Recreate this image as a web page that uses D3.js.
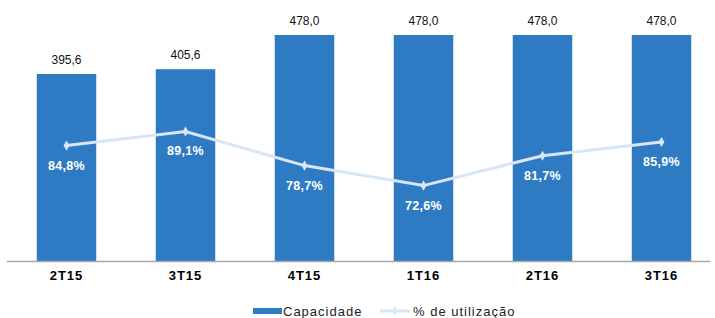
<!DOCTYPE html>
<html>
<head>
<meta charset="utf-8">
<script src="https://cdn.jsdelivr.net/npm/d3@7"></script>
<style>
  body { margin: 0; background: #fff; }
  svg { display: block; font-family: "Liberation Sans", Arial, sans-serif; }
</style>
</head>
<body>
<script>
// chart data
let categories = ["2T15", "3T15", "4T15", "1T16", "2T16", "3T16"];
let capacidade = [395.6, 405.6, 478.0, 478.0, 478.0, 478.0];
let utilizacao = [84.8, 89.1, 78.7, 72.6, 81.7, 85.9];
let seriesNames = ["Capacidade", "% de utilização"];

let width = 715,
  height = 318;

let barColor = "#2e7bc4",
  lineColor = "#d9e6f6";

let fmt = (v, d) => v.toFixed(d).replace(".", ",");

let svg = d3.select("body")
  .append("svg")
  .attr("width", width)
  .attr("height", height);

// scales
let x = d3.scaleBand()
  .domain(categories)
  .range([7, 721])
  .paddingInner(0.5)
  .paddingOuter(0.25);

let y = d3.scaleLinear().domain([0, 552]).range([261, 0]);
let y2 = d3.scaleLinear().domain([49.6, 129.2]).range([261, 0]);

// bars
svg.append("g")
  .selectAll("rect")
  .data(capacidade)
  .join("rect")
  .attr("x", (d, i) => x(categories[i]))
  .attr("y", d => y(d))
  .attr("width", x.bandwidth())
  .attr("height", d => y(0) - y(d))
  .attr("fill", barColor);

// bar value labels
svg.append("g")
  .selectAll("text")
  .data(capacidade)
  .join("text")
  .attr("x", (d, i) => x(categories[i]) + x.bandwidth() / 2)
  .attr("y", d => y(d) - 10)
  .attr("text-anchor", "middle")
  .attr("font-size", 12)
  .attr("fill", "#111")
  .text(d => fmt(d, 1));

// x axis
let axis = svg.append("g")
  .attr("transform", "translate(0,261)")
  .call(d3.axisBottom(x).tickSize(0).tickPadding(10));
axis.select(".domain")
  .attr("d", "M7,0.5H710")
  .attr("stroke", "#a6a6a6")
  .attr("stroke-width", 1.5);
axis.selectAll("text")
  .attr("font-family", "'Liberation Sans', Arial, sans-serif")
  .attr("font-size", 13)
  .attr("font-weight", "bold")
  .attr("letter-spacing", 1)
  .attr("fill", "#000");

// utilisation line
let cx = (d, i) => x(categories[i]) + x.bandwidth() / 2;
let line = d3.line()
  .x(cx)
  .y(d => y2(d));

svg.append("path")
  .datum(utilizacao)
  .attr("d", line)
  .attr("fill", "none")
  .attr("stroke", lineColor)
  .attr("stroke-width", 3);

svg.append("g")
  .selectAll("path")
  .data(utilizacao)
  .join("path")
  .attr("d", d3.symbol(d3.symbolDiamond, 30))
  .attr("transform", (d, i) => `translate(${cx(d, i)},${y2(d)})`)
  .attr("fill", lineColor);

svg.append("g")
  .selectAll("text")
  .data(utilizacao)
  .join("text")
  .attr("x", cx)
  .attr("y", d => y2(d) + 24)
  .attr("text-anchor", "middle")
  .attr("font-size", 12.5)
  .attr("font-weight", "bold")
  .attr("letter-spacing", 0.3)
  .attr("fill", "#fff")
  .text(d => fmt(d, 1) + "%");

// legend
let legend = svg.append("g").attr("transform", "translate(0,311)");
legend.append("rect")
  .attr("x", 253).attr("y", -3)
  .attr("width", 29).attr("height", 6)
  .attr("fill", barColor);
legend.append("text")
  .attr("x", 283).attr("y", 4.5)
  .attr("font-size", 13)
  .attr("fill", "#222")
  .attr("letter-spacing", 1)
  .text(seriesNames[0]);
legend.append("line")
  .attr("x1", 380).attr("x2", 410)
  .attr("y1", 0).attr("y2", 0)
  .attr("stroke", lineColor)
  .attr("stroke-width", 3);
legend.append("path")
  .attr("d", d3.symbol(d3.symbolDiamond, 25))
  .attr("transform", "translate(395,0)")
  .attr("fill", lineColor);
legend.append("text")
  .attr("x", 413).attr("y", 4.5)
  .attr("font-size", 13)
  .attr("fill", "#222")
  .attr("letter-spacing", 1)
  .text(seriesNames[1]);
</script>
</body>
</html>
